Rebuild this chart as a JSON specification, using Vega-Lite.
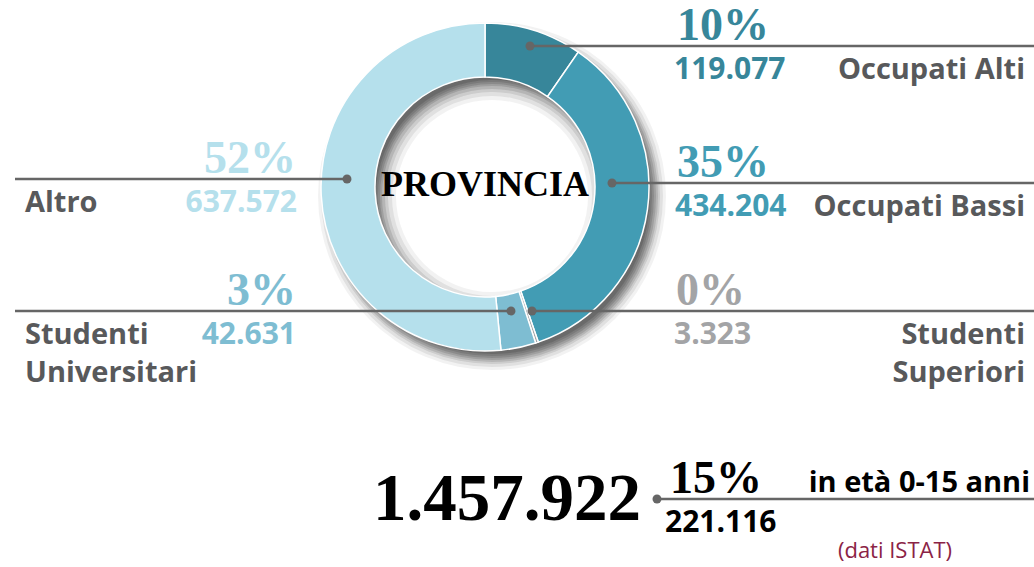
{
  "$schema": "https://vega.github.io/schema/vega-lite/v6.json",
  "width": 970,
  "height": 374,
  "padding": {"left": 0, "top": 0, "right": 0, "bottom": 8},
  "autosize": {"type": "pad"},
  "background": "white",
  "config": {
    "view": {"stroke": null},
    "locale": {"number": {"decimal": ",", "thousands": ".", "grouping": [3], "currency": ["€", ""]}}
  },
  "datasets": {
    "popolazione": [
      {"category": "Occupati Alti", "label": "Occupati Alti", "count": 119077, "share": 0.10},
      {"category": "Occupati Bassi", "label": "Occupati Bassi", "count": 434204, "share": 0.35},
      {"category": "Studenti Superiori", "label": "Studenti\nSuperiori", "count": 3323, "share": 0.00},
      {"category": "Studenti Universitari", "label": "Studenti\nUniversitari", "count": 42631, "share": 0.03},
      {"category": "Altro", "label": "Altro", "count": 637572, "share": 0.52},
      {"category": "in età 0-15 anni", "label": "in età 0-15 anni", "count": 221116, "share": 0.15}
    ],
    "totale": [
      {"category": "Totale", "count": 1457922, "source": "(dati ISTAT)"}
    ]
  },
  "layer": [
    {
      "data": {"name": "popolazione"},
      "transform": [
        {"filter": {"field": "category", "oneOf": ["Occupati Alti", "Occupati Bassi", "Studenti Superiori", "Studenti Universitari", "Altro"]}},
        {"aggregate": [{"op": "sum", "field": "count", "as": "count"}]}
      ],
      "mark": {"type": "arc", "outerRadius": 158, "innerRadius": 116, "fill": "#000", "opacity": 0.12, "xOffset": 7, "yOffset": 9},
      "encoding": {"theta": {"field": "count", "type": "quantitative"}}
    },
    {
      "data": {"name": "popolazione"},
      "transform": [
        {"filter": {"field": "category", "oneOf": ["Occupati Alti", "Occupati Bassi", "Studenti Superiori", "Studenti Universitari", "Altro"]}},
        {"aggregate": [{"op": "sum", "field": "count", "as": "count"}]}
      ],
      "mark": {"type": "arc", "outerRadius": 160, "innerRadius": 114, "fill": "#000", "opacity": 0.12, "xOffset": 7, "yOffset": 9},
      "encoding": {"theta": {"field": "count", "type": "quantitative"}}
    },
    {
      "data": {"name": "popolazione"},
      "transform": [
        {"filter": {"field": "category", "oneOf": ["Occupati Alti", "Occupati Bassi", "Studenti Superiori", "Studenti Universitari", "Altro"]}},
        {"aggregate": [{"op": "sum", "field": "count", "as": "count"}]}
      ],
      "mark": {"type": "arc", "outerRadius": 162, "innerRadius": 112, "fill": "#000", "opacity": 0.12, "xOffset": 7, "yOffset": 9},
      "encoding": {"theta": {"field": "count", "type": "quantitative"}}
    },
    {
      "data": {"name": "popolazione"},
      "transform": [
        {"filter": {"field": "category", "oneOf": ["Occupati Alti", "Occupati Bassi", "Studenti Superiori", "Studenti Universitari", "Altro"]}},
        {"aggregate": [{"op": "sum", "field": "count", "as": "count"}]}
      ],
      "mark": {"type": "arc", "outerRadius": 164, "innerRadius": 110, "fill": "#000", "opacity": 0.12, "xOffset": 7, "yOffset": 9},
      "encoding": {"theta": {"field": "count", "type": "quantitative"}}
    },
    {
      "data": {"name": "popolazione"},
      "transform": [
        {"filter": {"field": "category", "oneOf": ["Occupati Alti", "Occupati Bassi", "Studenti Superiori", "Studenti Universitari", "Altro"]}},
        {"aggregate": [{"op": "sum", "field": "count", "as": "count"}]}
      ],
      "mark": {"type": "arc", "outerRadius": 166, "innerRadius": 107, "fill": "#000", "opacity": 0.11, "xOffset": 7, "yOffset": 9},
      "encoding": {"theta": {"field": "count", "type": "quantitative"}}
    },
    {
      "data": {"name": "popolazione"},
      "transform": [
        {"filter": {"field": "category", "oneOf": ["Occupati Alti", "Occupati Bassi", "Studenti Superiori", "Studenti Universitari", "Altro"]}},
        {"aggregate": [{"op": "sum", "field": "count", "as": "count"}]}
      ],
      "mark": {"type": "arc", "outerRadius": 168, "innerRadius": 104, "fill": "#000", "opacity": 0.09, "xOffset": 7, "yOffset": 9},
      "encoding": {"theta": {"field": "count", "type": "quantitative"}}
    },
    {
      "data": {"name": "popolazione"},
      "transform": [
        {"filter": {"field": "category", "oneOf": ["Occupati Alti", "Occupati Bassi", "Studenti Superiori", "Studenti Universitari", "Altro"]}},
        {"aggregate": [{"op": "sum", "field": "count", "as": "count"}]}
      ],
      "mark": {"type": "arc", "outerRadius": 171, "innerRadius": 100, "fill": "#000", "opacity": 0.07, "xOffset": 7, "yOffset": 9},
      "encoding": {"theta": {"field": "count", "type": "quantitative"}}
    },
    {
      "data": {"name": "popolazione"},
      "transform": [
        {"filter": {"field": "category", "oneOf": ["Occupati Alti", "Occupati Bassi", "Studenti Superiori", "Studenti Universitari", "Altro"]}},
        {"aggregate": [{"op": "sum", "field": "count", "as": "count"}]}
      ],
      "mark": {"type": "arc", "outerRadius": 174, "innerRadius": 96, "fill": "#000", "opacity": 0.05, "xOffset": 7, "yOffset": 9},
      "encoding": {"theta": {"field": "count", "type": "quantitative"}}
    },
    {
      "data": {"name": "popolazione"},
      "transform": [
        {"filter": {"field": "category", "oneOf": ["Occupati Alti", "Occupati Bassi", "Studenti Superiori", "Studenti Universitari", "Altro"]}},
        {"window": [{"op": "row_number", "as": "sequence"}]}
      ],
      "mark": {"type": "arc", "outerRadius": 164, "innerRadius": 110, "stroke": "#ffffff", "strokeWidth": 1.5},
      "encoding": {
        "theta": {"field": "count", "type": "quantitative", "stack": true},
        "order": {"field": "sequence", "type": "quantitative", "sort": "ascending"},
        "color": {
          "field": "category", "type": "nominal",
          "scale": {
            "domain": ["Occupati Alti", "Occupati Bassi", "Studenti Superiori", "Studenti Universitari", "Altro", "in età 0-15 anni"],
            "range": ["#37869a", "#429cb4", "#a3a4a6", "#7ebdd2", "#b5e0ec", "#000000"]
          },
          "legend": null
        }
      }
    },
    {
      "data": {"values": [{"title": "PROVINCIA"}]},
      "mark": {"type": "text", "font": "Liberation Serif", "fontWeight": "bold", "fontSize": 36, "align": "center", "baseline": "middle", "dy": -2, "color": "#000"},
      "encoding": {"text": {"field": "title", "type": "nominal"}}
    },
    {
      "data": {"name": "popolazione"},
      "transform": [{"filter": {"field": "category", "oneOf": ["Occupati Alti", "Occupati Bassi", "Studenti Superiori", "in età 0-15 anni"]}}],
      "mark": {"type": "rule", "color": "#666666", "strokeWidth": 2.5, "x2Offset": 64},
      "encoding": {
        "x": {"field": "count", "type": "quantitative", "axis": null, "scale": {"domain": [3323, 42631, 119077, 221116, 434204, 637572, 1457922], "range": [532, 511, 530, 657, 612, 347, 657], "zero": false, "nice": false}},
        "x2": {"value": "width"},
        "y": {"field": "count", "type": "quantitative", "axis": null, "scale": {"domain": [3323, 42631, 119077, 221116, 434204, 637572, 1457922], "range": [311, 311, 46, 499, 183, 179, 499], "zero": false, "nice": false}}
      }
    },
    {
      "data": {"name": "popolazione"},
      "transform": [{"filter": {"field": "category", "oneOf": ["Studenti Universitari", "Altro"]}}],
      "mark": {"type": "rule", "color": "#666666", "strokeWidth": 2.5, "x2Offset": 15},
      "encoding": {
        "x": {"field": "count", "type": "quantitative", "axis": null, "scale": {"domain": [3323, 42631, 119077, 221116, 434204, 637572, 1457922], "range": [532, 511, 530, 657, 612, 347, 657], "zero": false, "nice": false}},
        "x2": {"value": 0},
        "y": {"field": "count", "type": "quantitative", "axis": null, "scale": {"domain": [3323, 42631, 119077, 221116, 434204, 637572, 1457922], "range": [311, 311, 46, 499, 183, 179, 499], "zero": false, "nice": false}}
      }
    },
    {
      "data": {"name": "popolazione"},
      "mark": {"type": "circle", "size": 80, "color": "#666666", "opacity": 1},
      "encoding": {
        "x": {"field": "count", "type": "quantitative", "axis": null, "scale": {"domain": [3323, 42631, 119077, 221116, 434204, 637572, 1457922], "range": [532, 511, 530, 657, 612, 347, 657], "zero": false, "nice": false}},
        "y": {"field": "count", "type": "quantitative", "axis": null, "scale": {"domain": [3323, 42631, 119077, 221116, 434204, 637572, 1457922], "range": [311, 311, 46, 499, 183, 179, 499], "zero": false, "nice": false}}
      }
    },
    {
      "data": {"name": "popolazione"},
      "transform": [{"filter": {"field": "category", "oneOf": ["Occupati Alti", "Occupati Bassi", "Studenti Superiori", "in età 0-15 anni"]}}],
      "mark": {"type": "text", "font": "Liberation Serif", "fontWeight": "bold", "fontSize": 46, "align": "left", "baseline": "alphabetic", "dy": -6},
      "encoding": {
        "x": {"field": "count", "type": "quantitative", "axis": null, "scale": {"domain": [3323, 42631, 119077, 221116, 434204, 637572, 1457922], "range": [676, 296, 677, 670, 677, 296, 670], "zero": false, "nice": false}},
        "y": {"field": "count", "type": "quantitative", "axis": null, "scale": {"domain": [3323, 42631, 119077, 221116, 434204, 637572, 1457922], "range": [311, 311, 46, 499, 183, 179, 499], "zero": false, "nice": false}},
        "text": {"field": "share", "type": "quantitative", "format": ".0%"},
        "color": {"field": "category", "type": "nominal", "legend": null}
      }
    },
    {
      "data": {"name": "popolazione"},
      "transform": [{"filter": {"field": "category", "oneOf": ["Occupati Alti", "Occupati Bassi", "Studenti Superiori", "in età 0-15 anni"]}}],
      "mark": {"type": "text", "font": "Open Sans", "fontWeight": "bold", "fontSize": 30, "align": "left", "baseline": "alphabetic", "dy": 33},
      "encoding": {
        "x": {"field": "count", "type": "quantitative", "axis": null, "scale": {"domain": [3323, 42631, 119077, 221116, 434204, 637572, 1457922], "range": [674, 296, 674, 665, 675, 297, 641], "zero": false, "nice": false}},
        "y": {"field": "count", "type": "quantitative", "axis": null, "scale": {"domain": [3323, 42631, 119077, 221116, 434204, 637572, 1457922], "range": [311, 311, 46, 499, 183, 179, 499], "zero": false, "nice": false}},
        "text": {"field": "count", "type": "quantitative", "format": ",d"},
        "color": {"field": "category", "type": "nominal", "legend": null}
      }
    },
    {
      "data": {"name": "popolazione"},
      "transform": [{"filter": {"field": "category", "oneOf": ["Occupati Alti", "Occupati Bassi", "Studenti Superiori"]}}],
      "mark": {"type": "text", "font": "Open Sans", "fontWeight": "bold", "fontSize": 29, "align": "right", "baseline": "alphabetic", "dy": 33, "lineBreak": "\n", "lineHeight": 38, "color": "#58595b"},
      "encoding": {
        "x": {"field": "count", "type": "quantitative", "axis": null, "scale": {"domain": [3323, 42631, 119077, 221116, 434204, 637572, 1457922], "range": [1025, 25, 1025, 1030, 1025, 25, 895], "zero": false, "nice": false}},
        "y": {"field": "count", "type": "quantitative", "axis": null, "scale": {"domain": [3323, 42631, 119077, 221116, 434204, 637572, 1457922], "range": [311, 311, 46, 499, 183, 179, 499], "zero": false, "nice": false}},
        "text": {"field": "label", "type": "nominal"}
      }
    },
    {
      "data": {"name": "popolazione"},
      "transform": [{"filter": {"field": "category", "equal": "in età 0-15 anni"}}],
      "mark": {"type": "text", "font": "Open Sans", "fontWeight": "bold", "fontSize": 29, "align": "right", "baseline": "alphabetic", "dy": -7, "color": "#000000"},
      "encoding": {
        "x": {"field": "count", "type": "quantitative", "axis": null, "scale": {"domain": [3323, 42631, 119077, 221116, 434204, 637572, 1457922], "range": [1025, 25, 1025, 1030, 1025, 25, 895], "zero": false, "nice": false}},
        "y": {"field": "count", "type": "quantitative", "axis": null, "scale": {"domain": [3323, 42631, 119077, 221116, 434204, 637572, 1457922], "range": [311, 311, 46, 499, 183, 179, 499], "zero": false, "nice": false}},
        "text": {"field": "label", "type": "nominal"}
      }
    },
    {
      "data": {"name": "popolazione"},
      "transform": [{"filter": {"field": "category", "oneOf": ["Studenti Universitari", "Altro"]}}],
      "mark": {"type": "text", "font": "Liberation Serif", "fontWeight": "bold", "fontSize": 46, "align": "right", "baseline": "alphabetic", "dy": -6},
      "encoding": {
        "x": {"field": "count", "type": "quantitative", "axis": null, "scale": {"domain": [3323, 42631, 119077, 221116, 434204, 637572, 1457922], "range": [676, 296, 677, 670, 677, 296, 670], "zero": false, "nice": false}},
        "y": {"field": "count", "type": "quantitative", "axis": null, "scale": {"domain": [3323, 42631, 119077, 221116, 434204, 637572, 1457922], "range": [311, 311, 46, 499, 183, 179, 499], "zero": false, "nice": false}},
        "text": {"field": "share", "type": "quantitative", "format": ".0%"},
        "color": {"field": "category", "type": "nominal", "legend": null}
      }
    },
    {
      "data": {"name": "popolazione"},
      "transform": [{"filter": {"field": "category", "oneOf": ["Studenti Universitari", "Altro"]}}],
      "mark": {"type": "text", "font": "Open Sans", "fontWeight": "bold", "fontSize": 30, "align": "right", "baseline": "alphabetic", "dy": 33},
      "encoding": {
        "x": {"field": "count", "type": "quantitative", "axis": null, "scale": {"domain": [3323, 42631, 119077, 221116, 434204, 637572, 1457922], "range": [674, 296, 674, 665, 675, 297, 641], "zero": false, "nice": false}},
        "y": {"field": "count", "type": "quantitative", "axis": null, "scale": {"domain": [3323, 42631, 119077, 221116, 434204, 637572, 1457922], "range": [311, 311, 46, 499, 183, 179, 499], "zero": false, "nice": false}},
        "text": {"field": "count", "type": "quantitative", "format": ",d"},
        "color": {"field": "category", "type": "nominal", "legend": null}
      }
    },
    {
      "data": {"name": "popolazione"},
      "transform": [{"filter": {"field": "category", "oneOf": ["Studenti Universitari", "Altro"]}}],
      "mark": {"type": "text", "font": "Open Sans", "fontWeight": "bold", "fontSize": 29, "align": "left", "baseline": "alphabetic", "dy": 33, "lineBreak": "\n", "lineHeight": 38, "color": "#58595b"},
      "encoding": {
        "x": {"field": "count", "type": "quantitative", "axis": null, "scale": {"domain": [3323, 42631, 119077, 221116, 434204, 637572, 1457922], "range": [1025, 25, 1025, 1030, 1025, 25, 895], "zero": false, "nice": false}},
        "y": {"field": "count", "type": "quantitative", "axis": null, "scale": {"domain": [3323, 42631, 119077, 221116, 434204, 637572, 1457922], "range": [311, 311, 46, 499, 183, 179, 499], "zero": false, "nice": false}},
        "text": {"field": "label", "type": "nominal"}
      }
    },
    {
      "data": {"name": "totale"},
      "mark": {"type": "text", "font": "Liberation Serif", "fontWeight": "bold", "fontSize": 67, "align": "right", "baseline": "alphabetic", "dy": 21, "color": "#000000"},
      "encoding": {
        "x": {"field": "count", "type": "quantitative", "axis": null, "scale": {"domain": [3323, 42631, 119077, 221116, 434204, 637572, 1457922], "range": [674, 296, 674, 665, 675, 297, 641], "zero": false, "nice": false}},
        "y": {"field": "count", "type": "quantitative", "axis": null, "scale": {"domain": [3323, 42631, 119077, 221116, 434204, 637572, 1457922], "range": [311, 311, 46, 499, 183, 179, 499], "zero": false, "nice": false}},
        "text": {"field": "count", "type": "quantitative", "format": ",d"}
      }
    },
    {
      "data": {"name": "totale"},
      "mark": {"type": "text", "font": "Open Sans", "fontSize": 22, "align": "center", "baseline": "alphabetic", "dy": 59, "color": "#8b2346"},
      "encoding": {
        "x": {"field": "count", "type": "quantitative", "axis": null, "scale": {"domain": [3323, 42631, 119077, 221116, 434204, 637572, 1457922], "range": [1025, 25, 1025, 1030, 1025, 25, 895], "zero": false, "nice": false}},
        "y": {"field": "count", "type": "quantitative", "axis": null, "scale": {"domain": [3323, 42631, 119077, 221116, 434204, 637572, 1457922], "range": [311, 311, 46, 499, 183, 179, 499], "zero": false, "nice": false}},
        "text": {"field": "source", "type": "nominal"}
      }
    }
  ],
  "resolve": {"scale": {"x": "independent", "y": "independent", "theta": "independent", "color": "shared"}}
}
